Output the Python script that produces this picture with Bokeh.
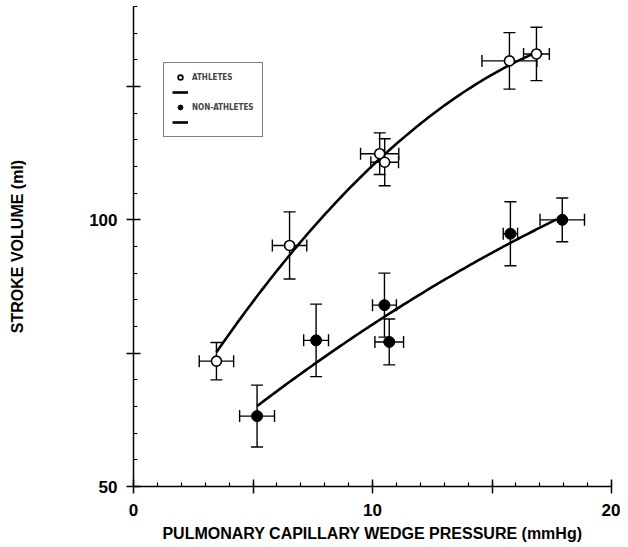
import numpy as np
from bokeh.plotting import figure
from bokeh.models import (ColumnDataSource, Whisker, TeeHead, Range1d, FixedTicker,
                          Legend, LegendItem)
from bokeh.embed import file_html
from bokeh.resources import INLINE

# ---- data ----
ath_x = [3.47, 6.53, 10.30, 10.51, 15.73, 16.86]
ath_y = [73.5, 95.2, 112.4, 110.8, 129.8, 131.1]
ath_xerr = [0.72, 0.72, 0.80, 0.58, 1.15, 0.54]
ath_yerr = [3.5, 6.3, 3.9, 4.4, 5.3, 5.0]

non_x = [5.17, 7.64, 10.50, 10.70, 15.77, 17.94]
non_y = [63.2, 77.4, 84.0, 77.1, 97.4, 100.0]
non_xerr = [0.73, 0.52, 0.50, 0.60, 0.30, 0.93]
non_yerr = [5.8, 6.8, 6.0, 4.3, 6.0, 4.1]

# fitted curves, points
ath_fit_x = [3.47, 6.6, 10.4, 15.7, 16.8]
ath_fit_y = [75.0, 94.2, 111.5, 129.0, 131.3]
non_fit_x = [5.17, 7.64, 10.5, 11.59, 15.77, 17.7]
non_fit_y = [65.1, 73.15, 81.9, 84.8, 95.8, 100.0]

x_major = [0, 5, 10, 15, 20]
x_minor = list(range(0, 21))
x_labels = {0: "0", 5: "", 10: "10", 15: "", 20: "20"}
y_major = [50, 75, 100, 125]
y_minor = list(range(50, 141, 5))
y_labels = {50: "50", 75: "", 100: "100", 125: ""}

FONT = "Liberation Sans"

p = figure(width=620, height=545, output_backend="svg", toolbar_location=None,
           x_range=Range1d(0, 20), y_range=Range1d(50, 140),
           min_border_left=133, min_border_right=9, min_border_top=6,
           min_border_bottom=59)
p.outline_line_color = None
p.xgrid.visible = False
p.ygrid.visible = False
p.background_fill_color = "white"
p.border_fill_color = "white"

def src(xs, ys, xe, ye):
    xs = np.array(xs); ys = np.array(ys); xe = np.array(xe); ye = np.array(ye)
    return ColumnDataSource(dict(x=xs, y=ys, xl=xs - xe, xu=xs + xe,
                                 yl=ys - ye, yu=ys + ye))

sa = src(ath_x, ath_y, ath_xerr, ath_yerr)
sn = src(non_x, non_y, non_xerr, non_yerr)

for s in (sa, sn):
    p.add_layout(Whisker(source=s, base="x", lower="yl", upper="yu", dimension="height",
                         line_width=1.4, line_color="black",
                         lower_head=TeeHead(size=12, line_width=1.4),
                         upper_head=TeeHead(size=12, line_width=1.4)))
    p.add_layout(Whisker(source=s, base="y", lower="xl", upper="xu", dimension="width",
                         line_width=1.4, line_color="black",
                         lower_head=TeeHead(size=12, line_width=1.4),
                         upper_head=TeeHead(size=12, line_width=1.4)))

ca = np.polyfit(ath_fit_x, ath_fit_y, 2)
xa = np.linspace(ath_fit_x[0], ath_fit_x[-1], 120)
la = p.line(xa, np.polyval(ca, xa), line_width=2.6, line_color="black")
cn = np.polyfit(non_fit_x, non_fit_y, 2)
xn = np.linspace(non_fit_x[0], non_fit_x[-1], 120)
ln = p.line(xn, np.polyval(cn, xn), line_width=2.6, line_color="black")

ra = p.scatter("x", "y", source=sa, marker="circle", size=10, fill_color="white",
               line_color="black", line_width=1.6)
rn = p.scatter("x", "y", source=sn, marker="circle", size=11, fill_color="black",
               line_color="black")

# axes
for ax in (p.xaxis[0], p.yaxis[0]):
    ax.axis_line_width = 1.5
    ax.major_tick_line_width = 1.5
    ax.minor_tick_line_width = 1.2
    ax.major_tick_in = 7
    ax.major_tick_out = 7
    ax.minor_tick_in = 4
    ax.minor_tick_out = 0
    ax.major_label_text_font = FONT
    ax.major_label_text_font_style = "bold"
    ax.major_label_text_font_size = "17px"
    ax.major_label_text_color = "black"
    ax.axis_label_text_font = FONT
    ax.axis_label_text_font_style = "bold"
    ax.axis_label_text_font_size = "16px"
    ax.axis_label_text_color = "black"

p.xaxis[0].ticker = FixedTicker(ticks=x_major, minor_ticks=x_minor)
p.xaxis[0].major_label_overrides = x_labels
p.xaxis[0].axis_label = "PULMONARY CAPILLARY WEDGE PRESSURE (mmHg)"
p.xaxis[0].major_label_standoff = 10
p.xaxis[0].axis_label_standoff = 6

p.yaxis[0].ticker = FixedTicker(ticks=y_major, minor_ticks=y_minor)
p.yaxis[0].major_label_overrides = y_labels
p.yaxis[0].axis_label = "STROKE VOLUME (ml)"
p.yaxis[0].major_label_standoff = 9
p.yaxis[0].axis_label_standoff = 60

legend = Legend(items=[
    LegendItem(label="ATHLETES", renderers=[ra]),
    LegendItem(label=" ", renderers=[la]),
    LegendItem(label="NON-ATHLETES", renderers=[rn]),
    LegendItem(label=" ", renderers=[ln]),
], location=(30, 349))
legend.border_line_color = "black"
legend.border_line_width = 1.5
legend.background_fill_alpha = 1
legend.label_text_font = "DejaVu Sans Condensed"
legend.label_text_font_style = "bold"
legend.label_text_font_size = "8px"
legend.label_height = 12
legend.glyph_height = 12
legend.glyph_width = 16
legend.label_standoff = 4
legend.spacing = 3
legend.padding = 8
legend.margin = 0
p.add_layout(legend)

open("out.html", "w").write(file_html(p, INLINE))
